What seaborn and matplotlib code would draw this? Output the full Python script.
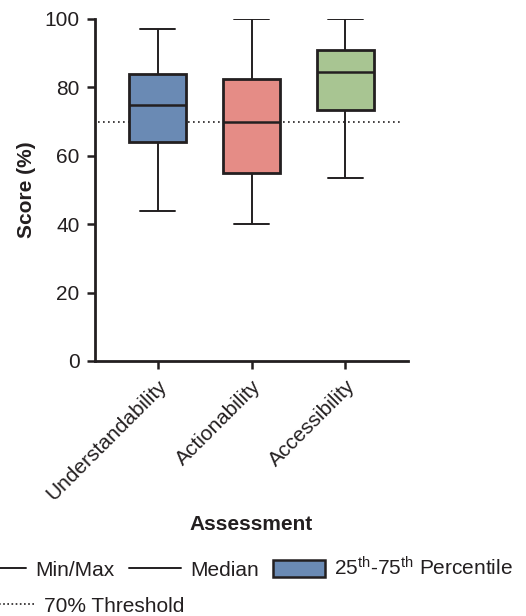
import numpy as np
import pandas as pd
import matplotlib
matplotlib.use("Agg")
import matplotlib.pyplot as plt
import seaborn as sns
from matplotlib.lines import Line2D
from matplotlib.patches import Patch

# Data (five-number summaries)
categories = ["Understandability", "Actionability", "Accessibility"]
mins = [44, 40, 53.5]
q1s = [64, 55, 73.5]
medians = [75, 70, 84.5]
q3s = [84, 82.5, 91]
maxs = [97, 100, 100]
threshold = 70
colors = ["#6A8AB4", "#E58C86", "#A8C592"]
yticks = [0, 20, 40, 60, 80, 100]

rows = []
for c, a, b, m, d, e in zip(categories, mins, q1s, medians, q3s, maxs):
    for v in (a, b, m, d, e):
        rows.append({"Assessment": c, "Score": v})
df = pd.DataFrame(rows)

sns.set_style("ticks")
plt.rcParams["font.family"] = ["Liberation Sans", "DejaVu Sans"]
plt.rcParams["mathtext.fontset"] = "custom"
plt.rcParams["mathtext.rm"] = "Liberation Sans"
plt.rcParams["mathtext.it"] = "Liberation Sans"

FS = 15
dark = "#231F20"
fig = plt.figure(figsize=(5.26, 6.16), dpi=100)
ax = fig.add_axes([95 / 526, 1 - 361 / 616, 313 / 526, 342 / 616])

ax.axhline(threshold, xmin=0.01, xmax=0.984, color=dark, linestyle=(0, (1, 2)),
           linewidth=1.2, zorder=1)

sns.boxplot(data=df, x="Assessment", y="Score", hue="Assessment", palette=colors,
            order=categories, hue_order=categories, whis=(0, 100), width=0.61,
            saturation=1, legend=False, ax=ax, linecolor=dark, linewidth=1.4,
            boxprops=dict(linewidth=2.0),
            medianprops=dict(linewidth=1.8, color=dark),
            whiskerprops=dict(linewidth=1.4, color=dark),
            capprops=dict(linewidth=1.4, color=dark),
            capwidths=0.38,
            showfliers=False)

ax.set_xlim(-0.665, 2.665)
ax.set_ylim(0, 100)
ax.set_yticks(yticks)
ax.set_yticklabels([str(t) for t in yticks], fontsize=FS, color=dark)
ax.set_xticks(range(len(categories)))
ax.set_xticklabels(categories, rotation=45, ha="right", va="top",
                   rotation_mode="anchor", fontsize=FS, color=dark)
ax.tick_params(axis="both", direction="out", length=6, width=1.8, color=dark, pad=5)
ax.set_ylabel("Score (%)", fontsize=FS, fontweight="bold", color=dark, labelpad=6)
ax.set_xlabel("Assessment", fontsize=FS, fontweight="bold", color=dark, labelpad=8)
for s in ["top", "right"]:
    ax.spines[s].set_visible(False)
for s in ["left", "bottom"]:
    ax.spines[s].set_linewidth(2.0)
    ax.spines[s].set_color(dark)

h1 = [Line2D([], [], color=dark, lw=1.4),
      Line2D([], [], color=dark, lw=1.4),
      Patch(facecolor=colors[0], edgecolor=dark, linewidth=1.8)]
l1 = ["Min/Max", "Median", "25$^{\\mathrm{th}}$-75$^{\\mathrm{th}}$ Percentile"]
fig.legend(h1, l1, loc="center left", bbox_to_anchor=(-26 / 526, 1 - 568 / 616),
           ncol=3, frameon=False, fontsize=FS, handlelength=2.5, handleheight=0.9,
           handletextpad=0.43, columnspacing=0.7, borderpad=0, borderaxespad=0,
           labelcolor=dark)
h2 = [Line2D([], [], color=dark, lw=1.2, linestyle=(0, (1, 1.5)))]
fig.legend(h2, ["70% Threshold"], loc="center left",
           bbox_to_anchor=(-18 / 526, 1 - 606 / 616), frameon=False, fontsize=FS,
           handlelength=2.5, handletextpad=0.48, borderpad=0, borderaxespad=0,
           labelcolor=dark)

fig.savefig("out.png", dpi=100)
